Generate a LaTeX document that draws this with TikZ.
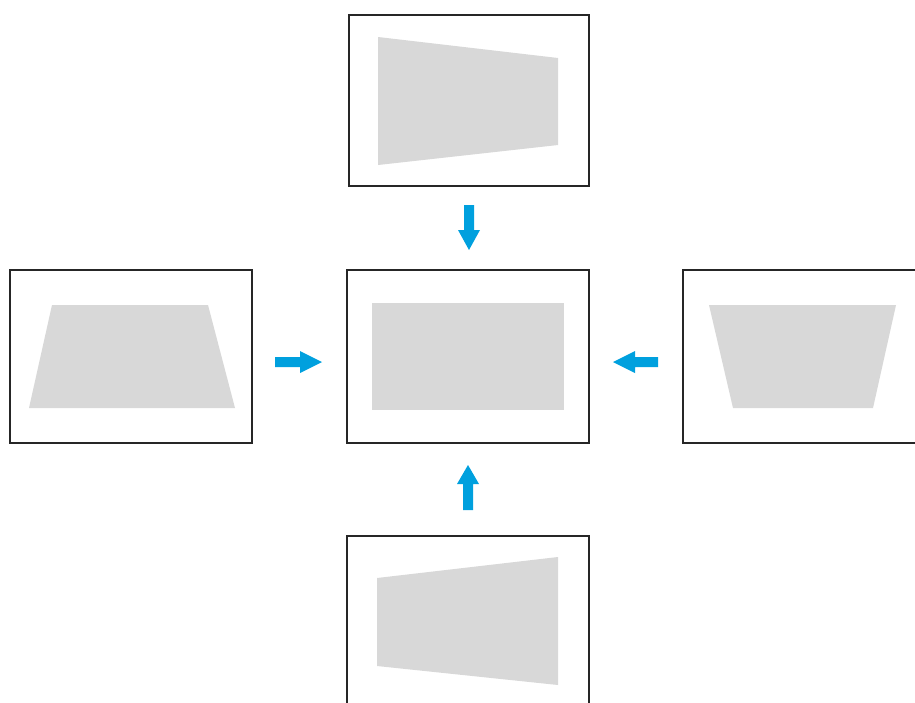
\documentclass[tikz,border=0pt]{standalone}
\definecolor{arrowblue}{RGB}{0,160,222}
\definecolor{shapegray}{RGB}{216,216,216}
\tikzset{
  frame/.style={draw=black!85, line width=1.8pt, fill=white},
  screen/.style={fill=shapegray, draw=none},
  blockarrow/.style={fill=arrowblue, draw=none}
}
\begin{document}
\begin{tikzpicture}[x=1pt,y=-1pt]
\useasboundingbox (0,0) rectangle (915,702);
\clip (0,0) rectangle (915,702);
% top
\draw[frame] (349,15) rectangle (589,186);
\fill[screen] (378,37) -- (558,58) -- (558,145) -- (378,165) -- cycle;
% left
\draw[frame] (10,270) rectangle (252,443);
\fill[screen] (52,305) -- (208,305) -- (235,408) -- (29,408) -- cycle;
% center
\draw[frame] (347,270) rectangle (589,443);
\fill[screen] (372,303) rectangle (564,410);
% right
\draw[frame] (683,270) rectangle (918,443);
\fill[screen] (709,305) -- (896,305) -- (873,408) -- (733,408) -- cycle;
% bottom
\draw[frame] (347,536) rectangle (589,706);
\fill[screen] (377,578) -- (558,557) -- (558,685) -- (377,666) -- cycle;
% arrows
\fill[blockarrow] (464,205) -- (474,205) -- (474,230) -- (480,230) -- (469,250) -- (458,230) -- (464,230) -- cycle;
\fill[blockarrow] (275,357) -- (300,357) -- (300,351) -- (322,362) -- (300,373) -- (300,367) -- (275,367) -- cycle;
\fill[blockarrow] (658,357) -- (635,357) -- (635,351) -- (613,362) -- (635,373) -- (635,367) -- (658,367) -- cycle;
\fill[blockarrow] (463,510) -- (473,510) -- (473,484) -- (479,484) -- (468,465) -- (457,484) -- (463,484) -- cycle;
\end{tikzpicture}
\end{document}
